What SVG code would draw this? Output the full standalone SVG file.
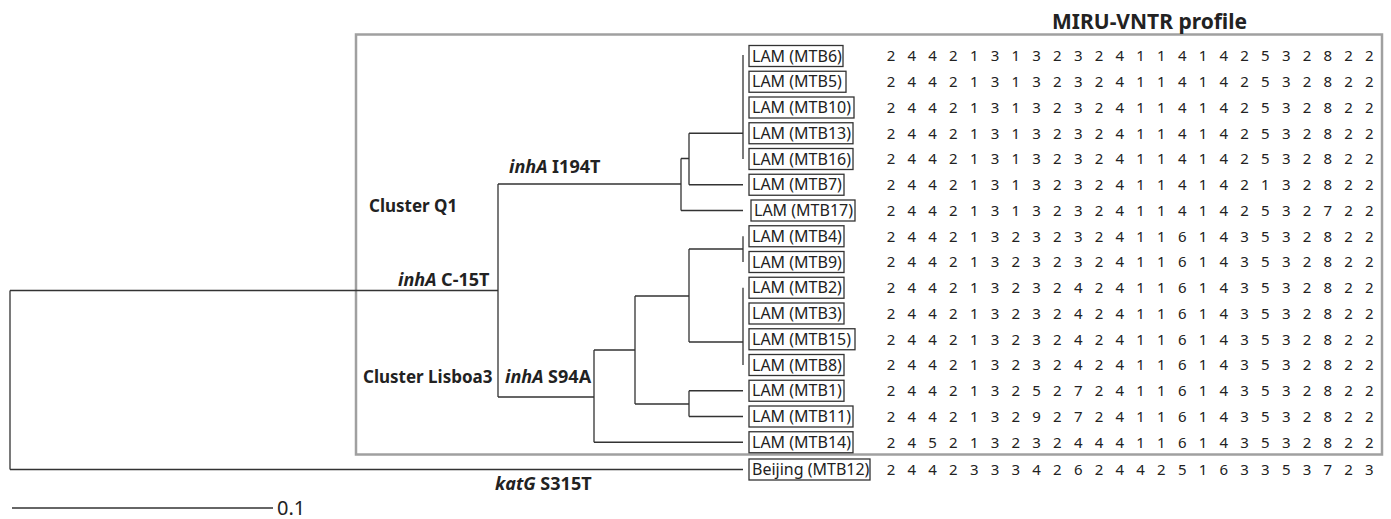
<svg xmlns="http://www.w3.org/2000/svg" width="1391" height="519" viewBox="0 0 1391 519">
<style>
.e{fill:none;stroke:#333;stroke-width:1.3}
.frame{fill:none;stroke:#a0a0a0;stroke-width:2.5}
.box{fill:#fff;stroke:#333;stroke-width:1.3}
.lab{font-family:"Noto Sans","DejaVu Sans",sans-serif;font-size:16px;fill:#222}
.num{font-family:"Noto Sans","DejaVu Sans",sans-serif;font-size:15px;fill:#222;letter-spacing:4.16px}
.b{font-family:"Noto Sans","DejaVu Sans",sans-serif;font-size:18px;font-weight:bold;fill:#222}
.c{font-size:17px}
.t{font-size:21px}
.s{font-size:20px}
.i{font-style:italic}
</style>
<rect width="1391" height="519" fill="#fff"/>
<rect class="frame" x="356" y="34.5" width="1026" height="420"/>
<text class="b t" x="1149.5" y="29" text-anchor="middle">MIRU-VNTR profile</text>

<g id="connectors">
<path class="e" d="M10,290.5 V469.5 M10,290.5 H498 M10,469.5 H743"/>
<path class="e" d="M498,184 V397 M498,184 H681 M498,397 H594"/>
<path class="e" d="M681,158.5 V210.5 M681,158.5 H689 M681,210.5 H743"/>
<path class="e" d="M689,133.25 V184.75 M689,133.25 H743 M689,184.75 H743"/>
<path class="e" d="M743,55 V159"/>
<path class="e" d="M594,350 V442.25 M594,350 H635 M594,442.25 H743"/>
<path class="e" d="M635,296 V404 M635,296 H689 M635,404 H689"/>
<path class="e" d="M689,249 V342 M689,249 H743 M689,342 H743"/>
<path class="e" d="M743,236.25 V262"/>
<path class="e" d="M743,287.75 V365"/>
<path class="e" d="M689,390.75 V416.5 M689,390.75 H743 M689,416.5 H743"/>
</g>

<g id="branch-labels">
<text class="b c" x="369" y="212">Cluster Q1</text>
<text class="b" x="398" y="286"><tspan class="i">inhA</tspan> C-15T</text>
<text class="b" x="509" y="173"><tspan class="i">inhA</tspan> I194T</text>
<text class="b c" x="363" y="383">Cluster Lisboa3</text>
<text class="b" x="505" y="383"><tspan class="i">inhA</tspan> S94A</text>
<text class="b" x="495" y="490"><tspan class="i">katG</tspan> S315T</text>
</g>

<g id="scale">
<line class="e" x1="12" y1="508" x2="273" y2="508"/>
<text class="lab s" x="277" y="515">0.1</text>
</g>

<g id="MTB6"><rect class="box" x="749" y="45.5" width="94" height="21"/><text class="lab" x="752" y="61.7">LAM (MTB6)</text><text class="num" x="886.7" y="61.4">2 4 4 2 1 3 1 3 2 3 2 4 1 1 4 1 4 2 5 3 2 8 2 2</text></g>
<g id="MTB5"><rect class="box" x="749" y="71.25" width="97" height="21"/><text class="lab" x="752" y="87.45">LAM (MTB5)</text><text class="num" x="886.7" y="87.15">2 4 4 2 1 3 1 3 2 3 2 4 1 1 4 1 4 2 5 3 2 8 2 2</text></g>
<g id="MTB10"><rect class="box" x="749" y="97" width="105" height="21"/><text class="lab" x="752" y="113.2">LAM (MTB10)</text><text class="num" x="886.7" y="112.9">2 4 4 2 1 3 1 3 2 3 2 4 1 1 4 1 4 2 5 3 2 8 2 2</text></g>
<g id="MTB13"><rect class="box" x="749" y="122.75" width="104" height="21"/><text class="lab" x="752" y="138.95">LAM (MTB13)</text><text class="num" x="886.7" y="138.65">2 4 4 2 1 3 1 3 2 3 2 4 1 1 4 1 4 2 5 3 2 8 2 2</text></g>
<g id="MTB16"><rect class="box" x="749" y="148.5" width="104" height="21"/><text class="lab" x="752" y="164.7">LAM (MTB16)</text><text class="num" x="886.7" y="164.4">2 4 4 2 1 3 1 3 2 3 2 4 1 1 4 1 4 2 5 3 2 8 2 2</text></g>
<g id="MTB7"><rect class="box" x="749" y="174.25" width="95" height="21"/><text class="lab" x="752" y="190.45">LAM (MTB7)</text><text class="num" x="886.7" y="190.15">2 4 4 2 1 3 1 3 2 3 2 4 1 1 4 1 4 2 1 3 2 8 2 2</text></g>
<g id="MTB17"><rect class="box" x="751" y="200" width="104" height="21"/><text class="lab" x="754" y="216.2">LAM (MTB17)</text><text class="num" x="886.7" y="215.9">2 4 4 2 1 3 1 3 2 3 2 4 1 1 4 1 4 2 5 3 2 7 2 2</text></g>
<g id="MTB4"><rect class="box" x="749" y="225.75" width="95" height="21"/><text class="lab" x="752" y="241.95">LAM (MTB4)</text><text class="num" x="886.7" y="241.65">2 4 4 2 1 3 2 3 2 3 2 4 1 1 6 1 4 3 5 3 2 8 2 2</text></g>
<g id="MTB9"><rect class="box" x="749" y="251.5" width="95" height="21"/><text class="lab" x="752" y="267.7">LAM (MTB9)</text><text class="num" x="886.7" y="267.4">2 4 4 2 1 3 2 3 2 3 2 4 1 1 6 1 4 3 5 3 2 8 2 2</text></g>
<g id="MTB2"><rect class="box" x="749" y="277.25" width="95" height="21"/><text class="lab" x="752" y="293.45">LAM (MTB2)</text><text class="num" x="886.7" y="293.15">2 4 4 2 1 3 2 3 2 4 2 4 1 1 6 1 4 3 5 3 2 8 2 2</text></g>
<g id="MTB3"><rect class="box" x="749" y="303" width="95" height="21"/><text class="lab" x="752" y="319.2">LAM (MTB3)</text><text class="num" x="886.7" y="318.9">2 4 4 2 1 3 2 3 2 4 2 4 1 1 6 1 4 3 5 3 2 8 2 2</text></g>
<g id="MTB15"><rect class="box" x="749" y="328.75" width="106" height="21"/><text class="lab" x="752" y="344.95">LAM (MTB15)</text><text class="num" x="886.7" y="344.65">2 4 4 2 1 3 2 3 2 4 2 4 1 1 6 1 4 3 5 3 2 8 2 2</text></g>
<g id="MTB8"><rect class="box" x="749" y="354.5" width="95" height="21"/><text class="lab" x="752" y="370.7">LAM (MTB8)</text><text class="num" x="886.7" y="370.4">2 4 4 2 1 3 2 3 2 4 2 4 1 1 6 1 4 3 5 3 2 8 2 2</text></g>
<g id="MTB1"><rect class="box" x="749" y="380.25" width="95" height="21"/><text class="lab" x="752" y="396.45">LAM (MTB1)</text><text class="num" x="886.7" y="396.15">2 4 4 2 1 3 2 5 2 7 2 4 1 1 6 1 4 3 5 3 2 8 2 2</text></g>
<g id="MTB11"><rect class="box" x="749" y="406" width="104" height="21"/><text class="lab" x="752" y="422.2">LAM (MTB11)</text><text class="num" x="886.7" y="421.9">2 4 4 2 1 3 2 9 2 7 2 4 1 1 6 1 4 3 5 3 2 8 2 2</text></g>
<g id="MTB14"><rect class="box" x="749" y="431.75" width="104" height="21"/><text class="lab" x="752" y="447.95">LAM (MTB14)</text><text class="num" x="886.7" y="447.65">2 4 5 2 1 3 2 3 2 4 4 4 1 1 6 1 4 3 5 3 2 8 2 2</text></g>
<g id="MTB12"><rect class="box" x="749" y="459" width="121" height="21"/><text class="lab" x="752" y="475.2">Beijing (MTB12)</text><text class="num" x="886.7" y="474.9">2 4 4 2 3 3 3 4 2 6 2 4 4 2 5 1 6 3 3 5 3 7 2 3</text></g>
</svg>
